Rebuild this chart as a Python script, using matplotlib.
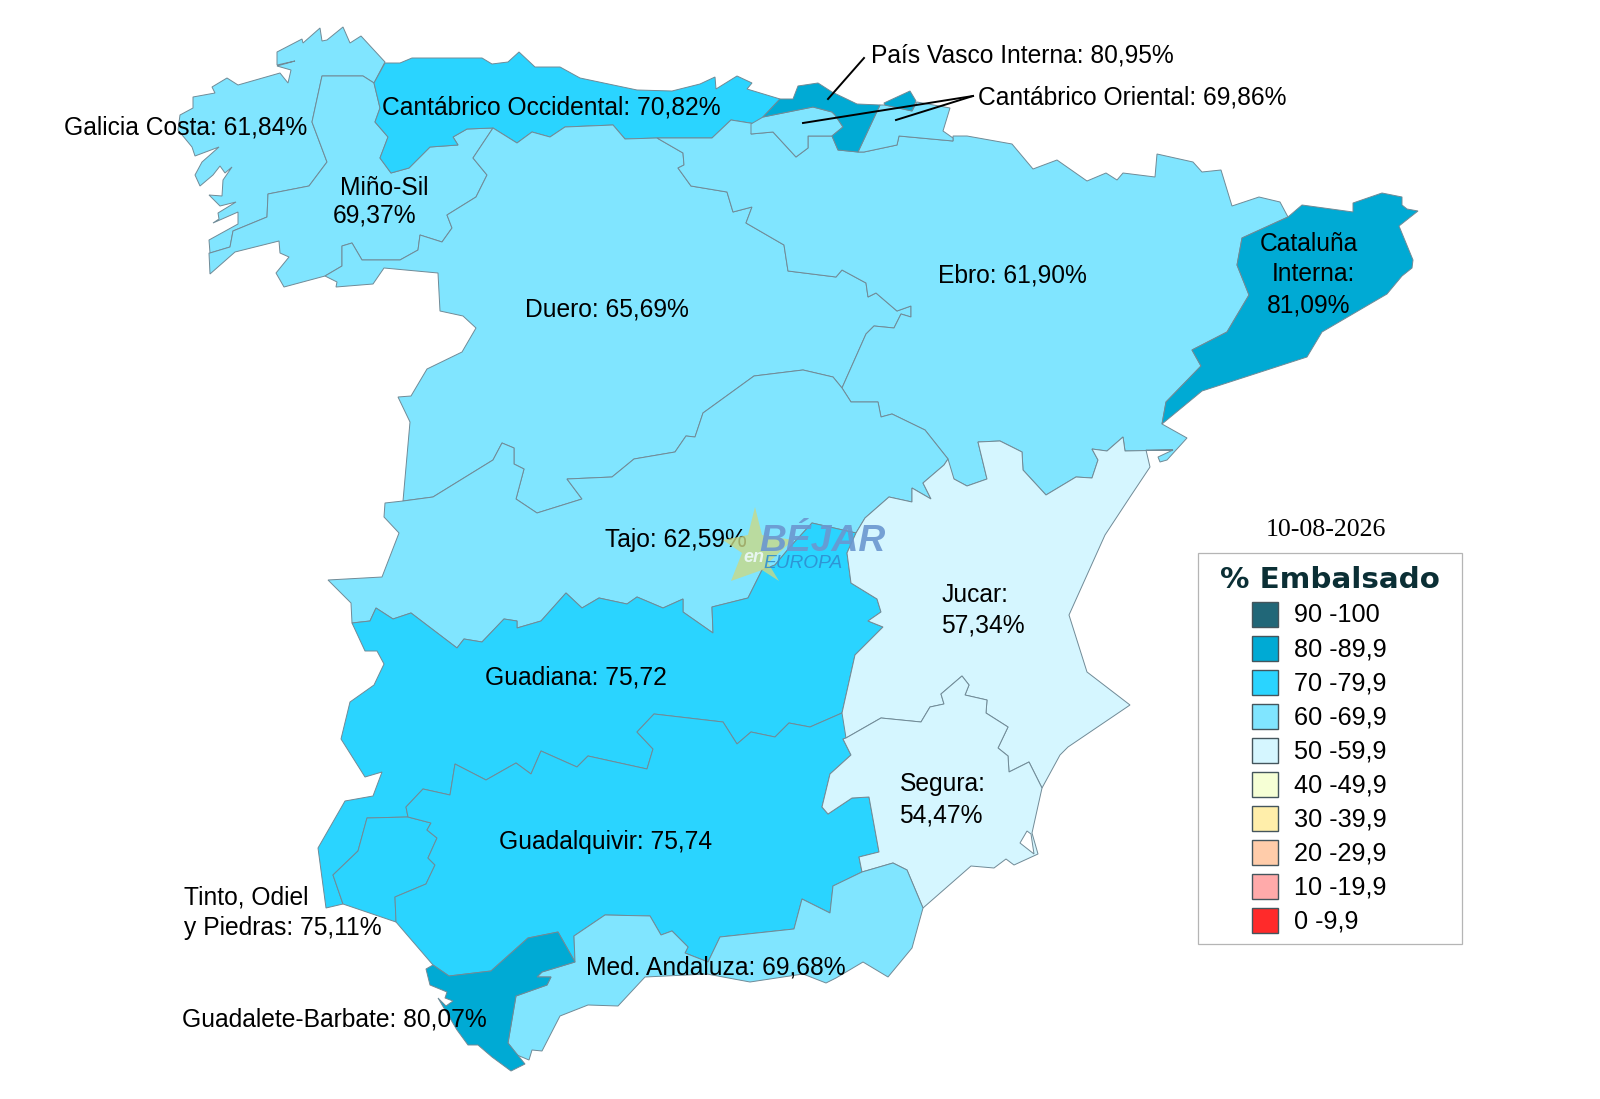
import matplotlib
matplotlib.use('Agg')
import matplotlib.pyplot as plt
from matplotlib.patches import Rectangle

plt.rcParams['font.family'] = ['Liberation Sans', 'DejaVu Sans']

# colour classes of the legend
legend_labels = ['90 -100', '80 -89,9', '70 -79,9', '60 -69,9', '50 -59,9',
                 '40 -49,9', '30 -39,9', '20 -29,9', '10 -19,9', '0 -9,9']
legend_colors = ['#216778', '#00aad4', '#2ad4ff', '#80e5ff', '#d5f6ff',
                 '#f6ffd5', '#ffeeaa', '#ffccaa', '#ffaaaa', '#ff2a2a']
C80, C70, C60, C50 = legend_colors[1:5]

# shared borders between basins, image pixels
mino_galicia = [(210,253),(230,247),(233,231),(267,217),(268,194),(309,186),(327,162),(312,122),(322,76),(363,76),(374,83)]
mino_cantabrico = [(374,83),(380,108),(375,122),(388,137),(380,158),(391,173),(409,168),(430,147),(458,145),(453,137),(467,129),(493,128)]
mino_duero = [(493,128),(473,158),(487,175),(476,197),(447,215),(452,228),(442,242),(420,235),(418,250),(400,260),(362,260),(352,243),(342,246),(342,266),(325,276)]
cantabrico_duero = [(493,128),(517,143),(532,132),(550,137),(565,127),(613,125),(625,139),(657,138)]
duero_ebro = [(657,138),(683,153),(684,165),(678,168),(691,186),(727,192),(733,212),(752,207),(746,223),(784,245),(788,271),(836,277),(842,270),(866,283),(868,297),(876,293),(897,311),(911,306),(911,317),(901,314),(894,328),(874,326),(866,334),(842,388)]
tajo_ebro = [(842,388),(851,402),(878,402),(881,417),(892,414),(925,430),(948,459)]
tajo_duero = [(842,388),(833,377),(803,370),(754,376),(703,413),(695,437),(686,436),(675,452),(634,459),(612,477),(567,479),(582,499),(537,513),(516,499),(524,469),(514,464),(514,448),(502,443),(493,460),(433,497),(403,501)]
tajo_guadiana = [(352,623),(370,621),(376,608),(393,619),(411,613),(457,648),(464,639),(482,642),(504,619),(517,621),(517,628),(541,621),(566,593),(582,608),(599,598),(627,604),(637,597),(663,608),(683,599),(683,612),(713,633),(712,607),(748,598),(762,570),(775,565),(790,547),(812,523),(856,533)]
tajo_jucar = [(856,533),(865,518),(889,497),(912,502),(912,488),(931,499),(923,483),(944,465),(948,459)]
guadiana_jucar = [(856,533),(847,553),(851,583),(877,599),(881,612),(868,621),(883,627),(855,655),(842,713)]
guadiana_guadalquivir = [(842,713),(810,727),(789,723),(775,737),(751,732),(737,744),(723,722),(654,714),(637,732),(653,749),(647,769),(588,756),(577,767),(541,751),(531,774),(516,763),(486,780),(455,764),(450,795),(423,789),(406,807),(408,817)]
jucar_ebro = [(1173,450),(1125,451),(1123,437),(1107,451),(1092,449),(1098,460),(1092,478),(1076,477),(1046,495),(1023,470),(1022,452),(1000,441),(978,442),(987,479),(967,486),(954,479),(944,465),(948,459)]
jucar_segura = [(846,738),(881,718),(921,722),(930,707),(944,704),(941,694),(962,676),(969,685),(965,695),(987,700),(986,713),(1008,727),(998,748),(1008,756),(1009,772),(1029,762),(1042,788)]
cataluna_ebro = [(1288,217),(1242,238),(1237,265),(1249,295),(1227,332),(1192,350),(1201,366),(1166,402),(1162,424)]

# coasts and the rest of each outline
galicia_coast = [(210,253),(209,240),(238,224),(238,212),(213,223),(219,219),(218,213),(236,202),(220,206),(209,195),(222,196),(223,180),(232,167),(225,173),(220,166),(213,175),(200,186),(195,175),(202,162),(219,147),(195,156),(192,147),(178,130),(180,115),(193,108),(193,97),(215,93),(212,87),(227,78),(238,85),(280,73),(288,83),(291,70),(277,66),(295,61),(277,65),(277,52),(302,39),(303,43),(320,28),(322,41),(327,40),(343,27),(350,43),(361,36),(385,62)]
mino_coast = [(325,276),(284,287),(276,273),(289,257),(280,253),(279,241),(235,252),(210,274),(209,253)]
cantabrico_coast = [(374,83),(385,63),(400,63),(412,58),(482,58),(492,64),(508,62),(519,52),(535,67),(560,67),(580,78),(637,90),(672,91),(700,84),(715,77),(716,89),(737,76),(752,83),(747,89),(780,99),(763,117),(756,124),(731,120),(712,138),(657,138)]
duero_coast = [(325,276),(337,282),(336,287),(373,284),(384,268),(438,273),(440,311),(463,316),(476,328),(462,352),(427,369),(411,396),(398,397),(410,422),(403,501)]
ebro_north = [(657,138),(712,138),(731,120),(756,124),(751,134),(773,132),(796,157),(808,148),(808,136),(832,136),(838,150),(858,152),(864,152),(897,145),(899,136),(953,141),(953,136),(967,136),(1012,144),(1033,169),(1057,160),(1087,181),(1106,173),(1117,180),(1123,173),(1155,177),(1157,154),(1193,162),(1202,172),(1221,170),(1232,206),(1259,197),(1280,202),(1288,217)]
ebro_delta = [(1162,424),(1187,438),(1167,460),(1160,462),(1158,457),(1173,450)]
cataluna_coast = [(1288,217),(1302,205),(1353,212),(1353,203),(1382,193),(1402,197),(1402,205),(1407,209),(1418,211),(1399,226),(1413,260),(1412,268),(1402,276),(1387,294),(1322,332),(1307,357),(1202,391),(1162,424)]
pais_vasco = [(763,117),(780,99),(793,99),(798,86),(818,83),(832,92),(857,104),(880,105),(858,152),(838,150),(832,136),(843,127),(835,115),(832,112),(813,107)]
pais_vasco_east = [(884,103),(910,91),(916,101),(912,111),(885,105)]
oriental_west = [(763,117),(813,107),(832,112),(835,115),(843,127),(832,136),(808,136),(808,148),(796,157),(773,132),(751,134),(751,124)]
oriental_east = [(880,105),(885,105),(912,111),(917,102),(950,108),(943,131),(953,138),(953,141),(899,136),(897,145),(864,152),(858,152)]
tajo_coast = [(403,501),(385,503),(384,517),(399,533),(382,577),(328,580),(351,603),(352,623)]
guadiana_west = [(408,817),(367,818),(358,851),(333,875),(343,904),(326,908),(318,848),(345,801),(373,796),(382,772),(365,777),(341,739),(350,702),(374,685),(384,664),(377,651),(365,651),(352,623)]
tinto = [(408,817),(367,818),(358,851),(333,875),(343,904),(396,922),(395,897),(426,884),(435,865),(428,858),(437,838),(427,830),(431,823)]
jucar_coast = [(1125,451),(1146,450),(1150,467),(1130,497),(1105,535),(1069,615),(1087,672),(1130,705),(1068,747),(1060,755),(1042,788)]
guadalquivir_south = [(842,713),(848,710),(861,724),(846,738),(843,739),(851,755),(830,774),(822,807),(828,814),(852,798),(869,797),(879,852),(859,857),(862,872),(833,886),(830,913),(802,899),(794,929),(720,937),(708,962),(685,953),(688,947),(672,931),(661,935),(650,916),(605,915),(574,936),(575,962),(558,932),(528,938),(491,971),(449,976),(433,965),(396,922),(395,897),(426,884),(435,865),(428,858),(437,838),(427,830),(431,823),(408,817)]
segura_south = [(1042,788),(1032,833),(1038,854),(1014,865),(1006,859),(994,868),(971,866),(923,908),(907,870),(893,863),(862,872),(859,857),(879,852),(869,797),(852,798),(828,814),(822,807),(830,774),(851,755),(843,739)]
mar_menor = [(1020,843),(1027,831),(1031,834),(1034,854)]
med_andaluza = [(575,962),(574,936),(605,915),(650,916),(661,935),(672,931),(688,947),(685,953),(708,962),(720,937),(794,929),(802,899),(830,913),(833,886),(862,872),(893,863),(907,870),(923,908),(912,948),(888,977),(863,962),(836,978),(826,983),(803,974),(750,982),(707,974),(645,977),(618,1006),(588,1005),(560,1016),(542,1051),(532,1050),(529,1060),(517,1055),(508,1043),(516,996),(547,985),(551,977),(537,977),(542,972)]
guadalete = [(558,932),(575,962),(542,972),(537,977),(551,977),(547,985),(516,996),(508,1043),(525,1064),(511,1071),(492,1057),(478,1045),(468,1045),(457,1030),(438,998),(446,1006),(453,1001),(445,998),(447,992),(430,985),(426,969),(433,965),(449,976),(491,971),(528,938)]

# basin outline and colour, in drawing order
basins = [
    (galicia_coast + mino_galicia[::-1], C60),
    (mino_cantabrico + mino_duero + mino_coast + mino_galicia, C60),
    (cantabrico_coast + cantabrico_duero[::-1] + mino_cantabrico[::-1], C70),
    (cantabrico_duero + duero_ebro + tajo_duero + duero_coast[::-1] + mino_duero[::-1], C60),
    (ebro_north + cataluna_ebro + ebro_delta + jucar_ebro + tajo_ebro[::-1] + duero_ebro[::-1], C60),
    (cataluna_coast + cataluna_ebro[::-1], C80),
    (oriental_west, C60),
    (oriental_east, C60),
    (pais_vasco, C80),
    (pais_vasco_east, C80),
    (tajo_duero + tajo_coast + tajo_guadiana + tajo_jucar + tajo_ebro[::-1], C60),
    (tajo_guadiana + guadiana_jucar + guadiana_guadalquivir + guadiana_west, C70),
    (tinto, C70),
    (guadalquivir_south + guadiana_guadalquivir[::-1], C70),
    (tajo_jucar + jucar_ebro[::-1][2:] + jucar_coast[1:] + jucar_segura[::-1] + [(842,713)] + guadiana_jucar[::-1], C50),
    (jucar_segura + segura_south, C50),
    (med_andaluza, C60),
    (guadalete, C80),
    (mar_menor, '#ffffff'),
]

# label text with left edge and baseline
labels = [
    ('Galicia Costa: 61,84%', 64, 134),
    ('Cantábrico Occidental: 70,82%', 382, 114),
    ('Miño-Sil', 340, 195),
    ('69,37%', 333, 222),
    ('Duero: 65,69%', 525, 316),
    ('País Vasco Interna: 80,95%', 871, 62),
    ('Cantábrico Oriental: 69,86%', 978, 104),
    ('Ebro: 61,90%', 938, 282),
    ('Cataluña', 1260, 251),
    ('Interna:', 1272, 281),
    ('81,09%', 1267, 313),
    ('Tajo: 62,59%', 605, 547),
    ('Jucar:', 942, 602),
    ('57,34%', 941, 632),
    ('Guadiana: 75,72', 485, 685),
    ('Guadalquivir: 75,74', 499, 849),
    ('Segura:', 900, 791),
    ('54,47%', 899, 823),
    ('Tinto, Odiel', 184, 904),
    ('y Piedras: 75,11%', 184, 935),
    ('Guadalete-Barbate: 80,07%', 182, 1027),
    ('Med. Andaluza: 69,68%', 586, 974),
]

leaders = [
    [(828,99),(864,58)],
    [(973,96),(803,123)],
    [(973,96),(896,120)],
]

star = [(755,507),(762,535),(793,540),(768,563),(779,581),(762,570),(731,581),(742,553),(723,540),(748,535)]

fig = plt.figure(figsize=(16, 10.99), dpi=100)
ax = fig.add_axes([0, 0, 1, 1])
ax.set_xlim(0, 1600)
ax.set_ylim(1099, 0)
ax.axis('off')

for outline, color in basins:
    xs, ys = zip(*outline)
    ax.fill(xs, ys, facecolor=color, edgecolor='#708a96', linewidth=0.7, joinstyle='miter', zorder=2)

for text, x, y in labels:
    ax.text(x, y, text, fontsize=17.75, color='black', va='baseline', ha='left', zorder=5)

for line in leaders:
    xs, ys = zip(*line)
    ax.plot(xs, ys, color='black', linewidth=1.4, zorder=4)

# watermark
xs, ys = zip(*star)
ax.fill(xs, ys, facecolor='#c9d987', edgecolor='none', alpha=0.8, zorder=6)
ax.text(759, 551, 'BÉJAR', fontsize=26.8, fontweight='bold', style='italic', color='#6b97d0', alpha=0.9, zorder=7)
ax.text(743, 562, 'en', fontsize=13, fontweight='bold', style='italic', color='#e8f6f0', zorder=7)
ax.text(763, 568, 'EUROPA', fontsize=13.8, style='italic', color='#2f8fd0', alpha=0.9, zorder=7)

# legend
ax.text(1266, 536, '10-08-2026', fontsize=18.6, family='Liberation Serif', color='black', zorder=5)
ax.add_patch(Rectangle((1198, 553), 264, 391, facecolor='white', edgecolor='#b5b5b5', linewidth=0.9, zorder=3))
ax.text(1220, 588, '% Embalsado', fontsize=21.2, fontweight='bold', family='DejaVu Sans', color='#0b2f35', zorder=5)
for i, (label, color) in enumerate(zip(legend_labels, legend_colors)):
    top = 601.5 + i * 34.1
    ax.add_patch(Rectangle((1252, top), 26, 25, facecolor=color, edgecolor='#44555c', linewidth=1.0, zorder=4))
    ax.text(1294, top + 20.5, label, fontsize=18.2, color='black', va='baseline', zorder=5)

fig.savefig('out.png', dpi=100)
